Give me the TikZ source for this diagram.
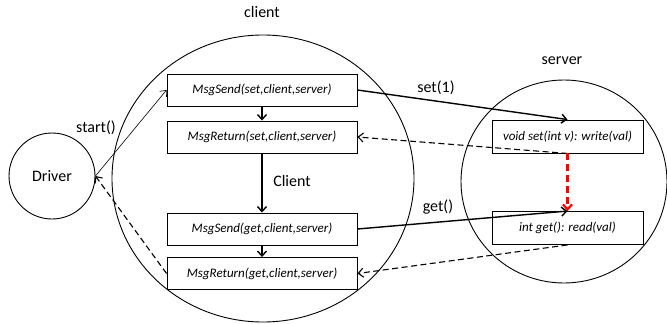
\documentclass[tikz,border=0pt]{standalone}
\usepackage{fontspec}
\setmainfont{Carlito}
\usetikzlibrary{arrows.meta}
\begin{document}
\begin{tikzpicture}[x=1pt,y=-1pt,
  lbl/.style={font=\fontsize{16}{18}\selectfont, inner sep=0pt},
  msgbox/.style={draw, line width=0.9pt, minimum width=190pt, minimum height=32pt, inner sep=0pt, font=\fontsize{13}{15}\selectfont\itshape},
  srvbox/.style={draw, line width=0.9pt, minimum width=151pt, minimum height=33pt, inner sep=0pt, font=\fontsize{13}{15}\selectfont\itshape},
  ring/.style={draw, line width=0.9pt},
  arr/.style={-{Straight Barb[length=5pt,width=9pt]}},
  thickarr/.style={arr, line width=1.4pt},
  dasharr/.style={arr, line width=1.1pt, dash pattern=on 6pt off 3.5pt},
]
\useasboundingbox (0,0) rectangle (667,324);
% circles
\draw[ring] (263,178.5) ellipse [x radius=151, y radius=143.5];
\draw[ring] (564,181.5) ellipse [x radius=103, y radius=101.5];
\node[ring, circle, minimum size=86pt, inner sep=0pt, font=\fontsize{16}{18}\selectfont] (drv) at (52,176) {Driver};
% titles
\node[lbl] (tclient) at (262,12) {client};
\node[lbl] (tserver) at (562,61) {server};
% client boxes
\node[msgbox] (b1) at (262,90) {MsgSend(set,client,server)};
\node[msgbox] (b2) at (262,137) {MsgReturn(set,client,server)};
\node[msgbox] (b3) at (262,229) {MsgSend(get,client,server)};
\node[msgbox] (b4) at (262,273.5) {MsgReturn(get,client,server)};
% server boxes
\node[srvbox] (s1) at (567.5,136.5) {void set(int v): write(val)};
\node[srvbox] (s2) at (567.5,228) {int get(): read(val)};
% labels
\node[lbl] (lstart) at (96,128) {start()};
\node[lbl] (lclient) at (292,181) {Client};
\node[lbl] (lset) at (436,88) {set(1)};
\node[lbl] (lget) at (438,207) {get()};
% connectors
\draw[arr, line width=0.6pt] (drv.east) -- (b1.west);
\draw[dasharr] (b4.west) -- (drv.east);
\draw[thickarr] (b1.south) -- (b2.north);
\draw[thickarr] (b2.south) -- (b3.north);
\draw[thickarr] (b3.south) -- (b4.north);
\draw[thickarr] (b1.east) -- (s1.north);
\draw[thickarr] (b3.east) -- (s2.north);
\draw[dasharr] (s1.south) -- (b2.east);
\draw[dasharr] (s2.south) -- (b4.east);
\draw[dasharr, red, line width=2.2pt, dash pattern=on 7pt off 4pt] (s1.south) -- (s2.north);
\end{tikzpicture}
\end{document}
